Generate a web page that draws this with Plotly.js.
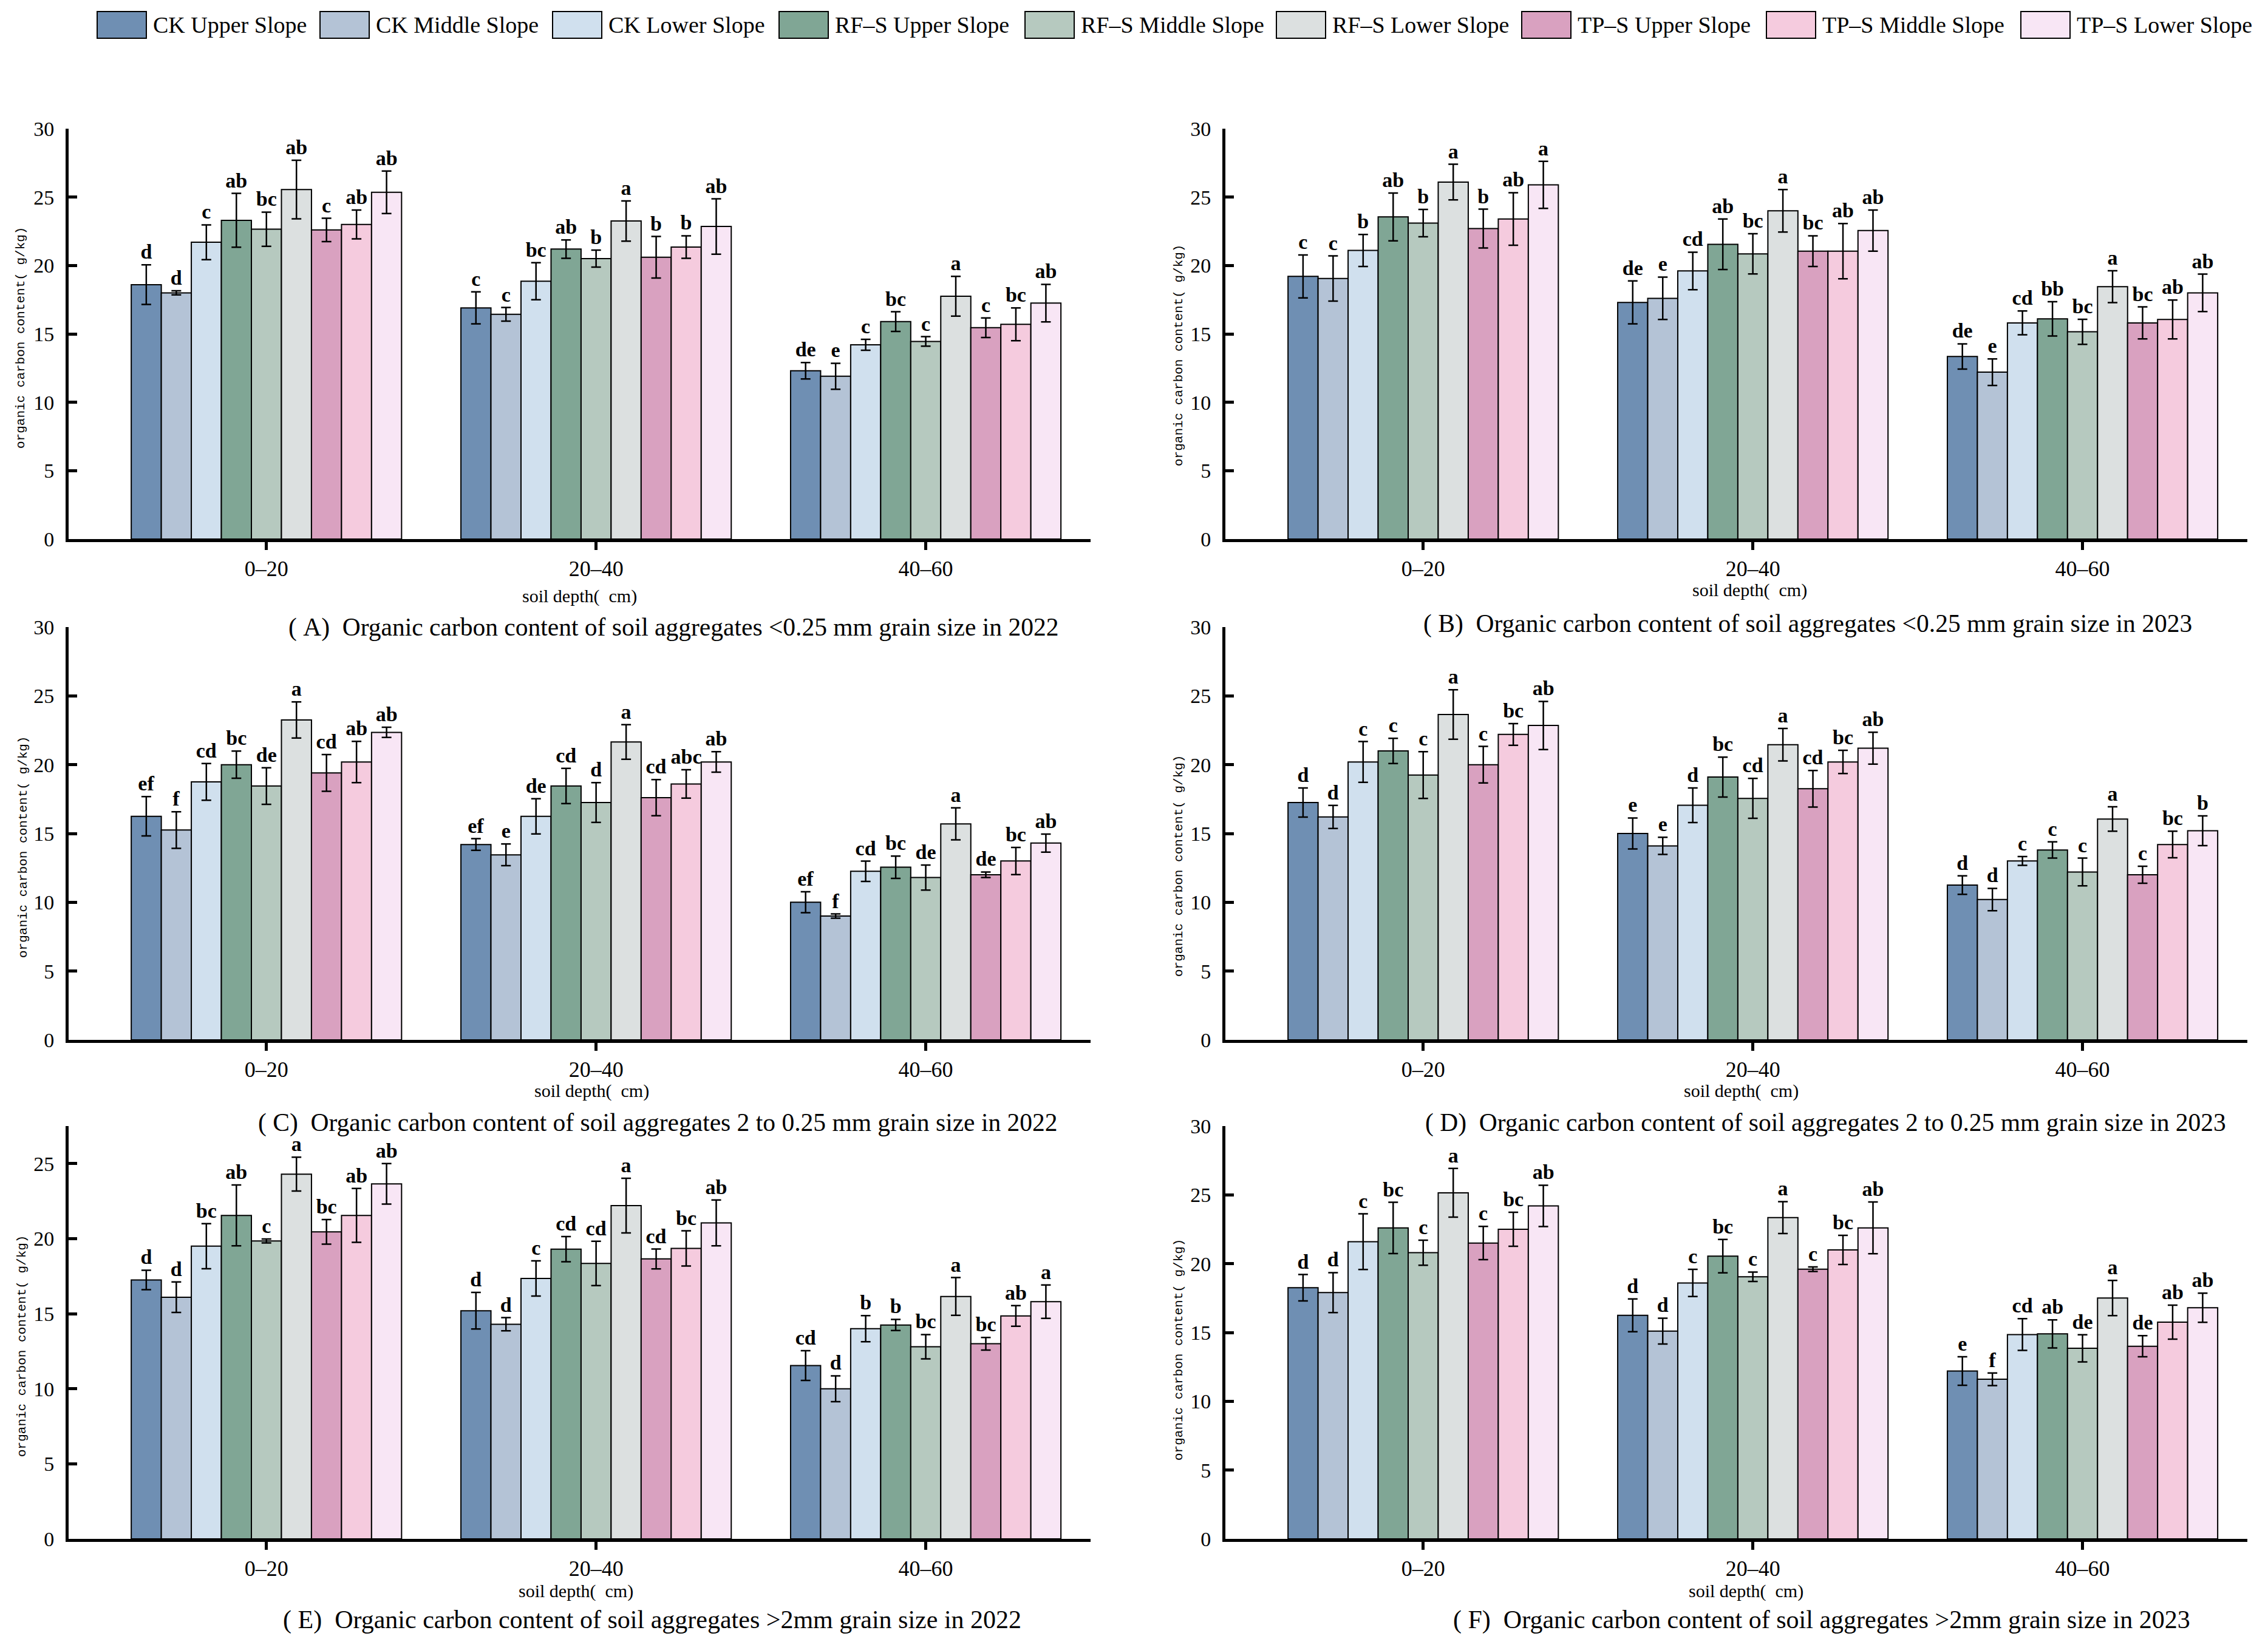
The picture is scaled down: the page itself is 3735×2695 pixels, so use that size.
<!DOCTYPE html>
<html>
<head>
<meta charset="utf-8">
<script src="https://cdn.plot.ly/plotly-3.0.1.min.js"></script>
<style>
html,body{margin:0;padding:0;background:#ffffff;}
#chart{width:3735px;height:2695px;}
</style>
</head>
<body>
<div id="chart"></div>
<script>
// ---------------- DATA ----------------
const depths = ['0–20', '20–40', '40–60'];
const seriesNames = ['CK Upper Slope', 'CK Middle Slope', 'CK Lower Slope',
  'RF–S Upper Slope', 'RF–S Middle Slope', 'RF–S Lower Slope',
  'TP–S Upper Slope', 'TP–S Middle Slope', 'TP–S Lower Slope'];

// each row = one series, values for [0–20, 20–40, 40–60]
// (A) <0.25 mm, 2022
const A_mean = [[18.6,16.9,12.3],[18.0,16.43,11.9],[21.7,18.85,14.2],[23.3,21.2,15.9],[22.65,20.5,14.45],[25.55,23.25,17.75],[22.6,20.6,15.45],[23.0,21.35,15.7],[25.35,22.85,17.25]];
const A_sd   = [[1.45,1.17,0.6],[0.15,0.5,0.95],[1.27,1.35,0.4],[1.97,0.67,0.72],[1.25,0.62,0.35],[2.14,1.47,1.45],[0.85,1.52,0.72],[1.05,0.82,1.2],[1.55,2.02,1.37]];
const A_sig  = [['d','c','de'],['d','c','e'],['c','bc','c'],['ab','ab','bc'],['bc','b','c'],['ab','a','a'],['c','b','c'],['ab','b','bc'],['ab','ab','ab']];

// (B) <0.25 mm, 2023
const B_mean = [[19.2,17.3,13.35],[19.05,17.6,12.2],[21.1,19.6,15.8],[23.55,21.55,16.1],[23.1,20.85,15.15],[26.1,24.0,18.45],[22.7,21.05,15.8],[23.4,21.05,16.05],[25.9,22.55,18.0]];
const B_sd   = [[1.57,1.57,0.92],[1.65,1.55,0.97],[1.17,1.37,0.87],[1.75,1.85,1.25],[1.0,1.47,0.92],[1.3,1.55,1.17],[1.42,1.12,1.17],[1.92,2.02,1.42],[1.72,1.5,1.37]];
const B_sig  = [['c','de','de'],['c','e','e'],['b','cd','cd'],['ab','ab','bb'],['b','bc','bc'],['a','a','a'],['b','bc','bc'],['ab','ab','ab'],['a','ab','ab']];

// (C) 2–0.25 mm, 2022
const C_mean = [[16.25,14.2,10.0],[15.25,13.45,9.0],[18.75,16.25,12.25],[20.0,18.45,12.55],[18.45,17.25,11.8],[23.25,21.65,15.7],[19.4,17.6,12.0],[20.2,18.6,13.0],[22.35,20.2,14.3]];
const C_sd   = [[1.43,0.42,0.76],[1.33,0.79,0.15],[1.33,1.28,0.74],[0.99,1.28,0.81],[1.33,1.45,0.91],[1.31,1.26,1.16],[1.33,1.31,0.2],[1.5,1.03,0.99],[0.37,0.74,0.66]];
const C_sig  = [['ef','ef','ef'],['f','e','f'],['cd','de','cd'],['bc','cd','bc'],['de','d','de'],['a','a','a'],['cd','cd','de'],['ab','abc','bc'],['ab','ab','ab']];

// (D) 2–0.25 mm, 2023
const D_mean = [[17.25,15.0,11.25],[16.2,14.1,10.2],[20.2,17.05,13.0],[21.0,19.1,13.8],[19.25,17.55,12.2],[23.65,21.45,16.05],[20.0,18.25,12.0],[22.2,20.2,14.2],[22.85,21.2,15.2]];
const D_sd   = [[1.06,1.13,0.67],[0.84,0.62,0.81],[1.48,1.26,0.32],[0.91,1.45,0.59],[1.7,1.45,1.01],[1.8,1.18,0.89],[1.33,1.33,0.62],[0.79,0.84,0.96],[1.75,1.16,1.08]];
const D_sig  = [['d','e','d'],['d','e','d'],['c','d','c'],['c','bc','c'],['c','cd','c'],['a','a','a'],['c','cd','c'],['bc','bc','bc'],['ab','ab','b']];

// (E) >2 mm, 2022
const E_mean = [[17.25,15.2,11.55],[16.1,14.3,10.0],[19.5,17.35,14.0],[21.55,19.3,14.25],[19.85,18.35,12.8],[24.3,22.2,16.15],[20.45,18.65,13.0],[21.55,19.35,14.85],[23.65,21.05,15.8]];
const E_sd   = [[0.65,1.22,0.99],[1.02,0.44,0.86],[1.5,1.17,0.87],[2.03,0.84,0.37],[0.13,1.48,0.81],[1.13,1.82,1.26],[0.82,0.66,0.42],[1.79,1.17,0.69],[1.35,1.53,1.11]];
const E_sig  = [['d','d','cd'],['d','d','d'],['bc','c','b'],['ab','cd','b'],['c','cd','bc'],['a','a','a'],['bc','cd','bc'],['ab','bc','ab'],['ab','ab','a']];

// (F) >2 mm, 2023
const F_mean = [[18.25,16.25,12.2],[17.9,15.1,11.6],[21.6,18.6,14.85],[22.6,20.55,14.9],[20.8,19.05,13.85],[25.15,23.35,17.5],[21.5,19.6,14.0],[22.5,21.0,15.75],[24.2,22.6,16.8]];
const F_sd   = [[0.96,1.19,1.04],[1.45,0.94,0.46],[2.02,0.99,1.15],[1.86,1.21,1.02],[0.91,0.34,0.99],[1.77,1.16,1.28],[1.21,0.17,0.77],[1.23,1.06,1.23],[1.5,1.88,1.06]];
const F_sig  = [['d','d','e'],['d','d','f'],['c','c','cd'],['bc','bc','ab'],['c','c','de'],['a','a','a'],['c','c','de'],['bc','bc','ab'],['ab','ab','ab']];

const panelTitles = [
  '(\u00a0A)\u00a0 Organic carbon content of soil aggregates &lt;0.25 mm grain size in 2022',
  '(\u00a0B)\u00a0 Organic carbon content of soil aggregates &lt;0.25 mm grain size in 2023',
  '(\u00a0C)\u00a0 Organic carbon content of soil aggregates 2 to 0.25 mm grain size in 2022',
  '(\u00a0D)\u00a0 Organic carbon content of soil aggregates 2 to 0.25 mm grain size in 2023',
  '(\u00a0E)\u00a0 Organic carbon content of soil aggregates &gt;2mm grain size in 2022',
  '(\u00a0F)\u00a0 Organic carbon content of soil aggregates &gt;2mm grain size in 2023'
];
const yTitleText = 'organic carbon content(\u00a0g/kg)';
const xTitleText = 'soil depth(\u00a0\u00a0cm)';

// ---------------- STYLE / LAYOUT CONSTANTS ----------------
const seriesColors = ['#6F8FB3','#B4C3D6','#D0E0EE','#80A695','#B6C9BF','#DCE0E0','#D9A1C0','#F5CBDE','#F8E6F5'];
const W = 3735, H = 2695;
const px = v => v / W;
const py = v => 1 - v / H;
const SERIF = 'Liberation Serif, Times New Roman, serif';
const MONO = 'Liberation Mono, monospace';

const panelData = [
  {mean:A_mean, sd:A_sd, sig:A_sig, yMax:30, yTicks:[0,5,10,15,20,25,30]},
  {mean:B_mean, sd:B_sd, sig:B_sig, yMax:30, yTicks:[0,5,10,15,20,25,30]},
  {mean:C_mean, sd:C_sd, sig:C_sig, yMax:30, yTicks:[0,5,10,15,20,25,30]},
  {mean:D_mean, sd:D_sd, sig:D_sig, yMax:30, yTicks:[0,5,10,15,20,25,30]},
  {mean:E_mean, sd:E_sd, sig:E_sig, yMax:27.5, yTicks:[0,5,10,15,20,25]},
  {mean:F_mean, sd:F_sd, sig:F_sig, yMax:30, yTicks:[0,5,10,15,20,25,30]}
];
const colX = [[113,1796],[2018,3701]];
const rowY = [[212,888],[1033,1713],[1855,2535]];
const yTitlePos = [[34,557],[1941,586],[38,1396],[1941,1427],[36,2218],[1941,2224]];
const xTitlePos = [[954,982],[2881,972],[974,1797],[2867,1797],[948,2621],[2875,2621]];
const subPos    = [[1109,1034],[2977,1027],[1083,1849],[3006,1849],[1074,2668],[3000,2668]];
const subSize   = [41.5,41.5,41.5,41.5,42,42];
const legendBoxX = [160,527,910,1283,1688,2102,2506,2909,3328];

// ---------------- BUILD ----------------
const traces = [];
const layout = {
  width: W, height: H,
  margin: {l:0, r:0, t:0, b:0},
  paper_bgcolor: '#ffffff', plot_bgcolor: 'rgba(0,0,0,0)',
  barmode: 'group', bargap: 0.18, bargroupgap: 0,
  showlegend: false,
  font: {family: SERIF, color: '#000'},
  annotations: [], shapes: []
};

panelData.forEach((p, k) => {
  const col = k % 2, row = Math.floor(k / 2);
  const xName = k === 0 ? 'x' : 'x' + (k + 1);
  const yName = k === 0 ? 'y' : 'y' + (k + 1);
  const xKey = k === 0 ? 'xaxis' : 'xaxis' + (k + 1);
  const yKey = k === 0 ? 'yaxis' : 'yaxis' + (k + 1);

  layout[xKey] = {
    domain: [px(colX[col][0]), px(colX[col][1])],
    anchor: yName, type: 'category', range: [-0.6, 2.5],
    showline: true, linewidth: 5, linecolor: '#000',
    ticks: 'outside', ticklen: 13, tickwidth: 5, tickcolor: '#000',
    tickfont: {family: SERIF, size: 36, color: '#000'},
    showgrid: false, zeroline: false, fixedrange: true
  };
  layout[yKey] = {
    domain: [py(rowY[row][1]), py(rowY[row][0])],
    anchor: xName, range: [0, p.yMax], tickvals: p.yTicks,
    showline: true, linewidth: 5, linecolor: '#000',
    ticks: 'inside', ticklen: 14, tickwidth: 5, tickcolor: '#000',
    ticklabelstandoff: 12,
    tickfont: {family: SERIF, size: 34, color: '#000'},
    showgrid: false, zeroline: false, fixedrange: true
  };

  seriesNames.forEach((name, s) => {
    traces.push({
      type: 'bar', name: name, x: depths, y: p.mean[s],
      xaxis: xName, yaxis: yName, offsetgroup: String(s),
      marker: {color: seriesColors[s], line: {color: '#000', width: 2}},
      error_y: {type: 'data', array: p.sd[s], visible: true, color: '#000', thickness: 2.5, width: 8},
      showlegend: false, hoverinfo: 'y'
    });
    traces.push({
      type: 'bar', name: name + ' sig', x: depths, y: p.sd[s], base: p.mean[s],
      xaxis: xName, yaxis: yName, offsetgroup: String(s),
      marker: {color: 'rgba(0,0,0,0)', line: {width: 0}},
      text: p.sig[s], textposition: 'outside', constraintext: 'none', cliponaxis: false,
      textfont: {family: SERIF, size: 34, color: '#000', weight: 'bold'},
      showlegend: false, hoverinfo: 'skip'
    });
  });

  layout.annotations.push({
    xref: 'paper', yref: 'paper', x: px(yTitlePos[k][0]), y: py(yTitlePos[k][1]),
    xanchor: 'center', yanchor: 'middle', textangle: -90, showarrow: false,
    text: yTitleText, font: {family: MONO, size: 21, color: '#000'}
  });
  layout.annotations.push({
    xref: 'paper', yref: 'paper', x: px(xTitlePos[k][0]), y: py(xTitlePos[k][1]),
    xanchor: 'center', yanchor: 'middle', showarrow: false,
    text: xTitleText, font: {family: SERIF, size: 30, color: '#000'}
  });
  layout.annotations.push({
    xref: 'paper', yref: 'paper', x: px(subPos[k][0]), y: py(subPos[k][1]),
    xanchor: 'center', yanchor: 'middle', showarrow: false,
    text: panelTitles[k], font: {family: SERIF, size: subSize[k], color: '#000'}
  });
});

// custom legend (large swatches)
seriesNames.forEach((name, s) => {
  const bx = legendBoxX[s];
  layout.shapes.push({
    type: 'rect', xref: 'paper', yref: 'paper',
    x0: px(bx), x1: px(bx + 81), y0: py(63), y1: py(19),
    fillcolor: seriesColors[s], line: {color: '#000', width: 2}
  });
  layout.annotations.push({
    xref: 'paper', yref: 'paper', x: px(bx + 90), y: py(41),
    xanchor: 'left', yanchor: 'middle', showarrow: false,
    text: name, font: {family: SERIF, size: 38, color: '#000'}
  });
});

Plotly.newPlot('chart', traces, layout, {staticPlot: true, displayModeBar: false});
</script>
</body>
</html>
